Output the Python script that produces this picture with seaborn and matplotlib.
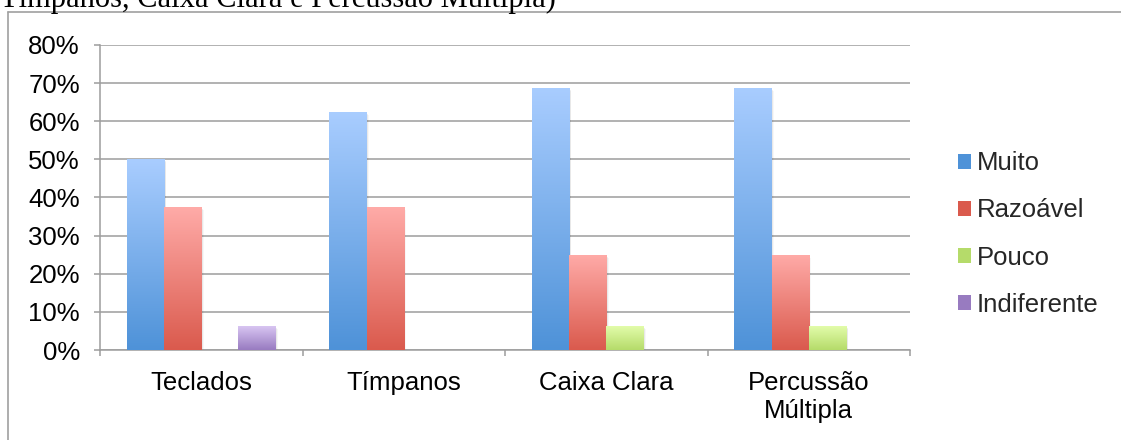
import numpy as np
import pandas as pd
import matplotlib
matplotlib.use("Agg")
import matplotlib.pyplot as plt
import seaborn as sns
from matplotlib.patches import Rectangle
from matplotlib.colors import LinearSegmentedColormap
from matplotlib.lines import Line2D

categories = ["Teclados", "Tímpanos", "Caixa Clara", "Percussão\nMúltipla"]
series = ["Muito", "Razoável", "Pouco", "Indiferente"]
muito = [50.0, 62.5, 68.75, 68.75]
razoavel = [37.5, 37.5, 25.0, 25.0]
pouco = [0.0, 0.0, 6.25, 6.25]
indiferente = [6.25, 0.0, 0.0, 0.0]
yticks = [0, 10, 20, 30, 40, 50, 60, 70, 80]
header = "Tímpanos, Caixa Clara e Percussão Múltipla)"

# gradient colours (top, bottom)
grad = {
    "Muito": ("#A9CDFF", "#4E92D8"),
    "Razoável": ("#FFABA8", "#DA5A4D"),
    "Pouco": ("#E2FCAA", "#B5DB6A"),
    "Indiferente": ("#D8C5F2", "#987BC0"),
}

rows = []
for cat, a, b, c, d in zip(categories, muito, razoavel, pouco, indiferente):
    for s, v in zip(series, [a, b, c, d]):
        rows.append({"cat": cat, "serie": s, "val": v})
df = pd.DataFrame(rows)

sns.set_theme(style="white")
plt.rcParams["font.family"] = ["Liberation Sans", "DejaVu Sans"]

fig = plt.figure(figsize=(11.21, 4.40), dpi=100)
ax = fig.add_axes([100 / 1121, 1 - 350 / 440, 810 / 1121, 305 / 440])

palette = {s: grad[s][1] for s in series}
sns.barplot(data=df, x="cat", y="val", hue="serie", order=categories,
            hue_order=series, palette=palette, width=0.735, ax=ax,
            legend=False, saturation=1, linewidth=0, zorder=3)

ax.set_ylim(0, 80)
ax.set_xlim(-0.5, 3.5)
ax.set_yticks(yticks)
ax.set_yticklabels([f"{t}%" for t in yticks])
ax.set_xlabel("")
ax.set_ylabel("")

# gradient fill + soft shadow for each bar
grad_img = np.linspace(1, 0, 256).reshape(-1, 1)
patches = list(ax.patches)
n_cat = len(categories)
for i, p in enumerate(patches):
    h = p.get_height()
    if h <= 0:
        continue
    s = series[i // n_cat]
    x0, w = p.get_x(), p.get_width()
    for k, a in [(1.0, 0.10), (2.0, 0.06), (3.0, 0.03)]:
        sh = Rectangle((x0 + 0.004 * k, 0), w, h - 0.25 * k, facecolor="black",
                       alpha=a, linewidth=0, zorder=2.5)
        ax.add_patch(sh)
    cmap = LinearSegmentedColormap.from_list(s, [grad[s][1], grad[s][0]])
    im = ax.imshow(grad_img, extent=(x0, x0 + w, 0, h), aspect="auto",
                   cmap=cmap, vmin=0, vmax=1, origin="upper", zorder=3.5)
    im.set_clip_path(p)
ax.set_xlim(-0.5, 3.5)
ax.set_ylim(0, 80)

gc = "#9D9D9D"
ax.grid(axis="y", color=gc, linewidth=1.1, zorder=1)
ax.grid(axis="x", visible=False)
for sp in ["top", "right"]:
    ax.spines[sp].set_visible(False)
ax.spines["left"].set_color(gc)
ax.spines["bottom"].set_color(gc)
ax.spines["left"].set_linewidth(1.1)
ax.spines["bottom"].set_linewidth(1.1)
ax.tick_params(axis="y", left=True, length=4.5, width=1.1, color=gc,
               pad=10, labelsize=18.5, labelcolor="black")
ax.tick_params(axis="x", bottom=False, labelsize=18.5, pad=9, labelcolor="black")
ax.set_axisbelow(True)

# ticks at category boundaries
ax.set_xticks([-0.5, 0.5, 1.5, 2.5, 3.5], minor=True)
ax.tick_params(axis="x", which="minor", bottom=True, length=4.5, width=1.1,
               color=gc, direction="out")

# legend
handles = [Rectangle((0, 0), 1, 1, facecolor=grad[s][1], edgecolor="none") for s in series]
leg = fig.legend(handles, series, loc="center left",
                 bbox_to_anchor=(948 / 1121, 1 - 234 / 440), frameon=False,
                 fontsize=18.5, handlelength=0.5, handleheight=0.5,
                 handletextpad=0.22, labelspacing=0.9, borderaxespad=0)

# outer chart border (top and left)
fig.add_artist(Line2D([8 / 1121, 1.0], [1 - 12 / 440, 1 - 12 / 440],
                      transform=fig.transFigure, color="#A0A0A0", linewidth=1.2))
fig.add_artist(Line2D([8 / 1121, 8 / 1121], [0, 1 - 12 / 440],
                      transform=fig.transFigure, color="#A0A0A0", linewidth=1.2))

# header text, cut at the top as in the source
fig.text(0 / 1121, 1 - 7 / 440, header, family=["Liberation Serif", "DejaVu Serif"],
         fontsize=22, ha="left", va="baseline", color="black")

fig.savefig("out.png", dpi=100, facecolor="white")
